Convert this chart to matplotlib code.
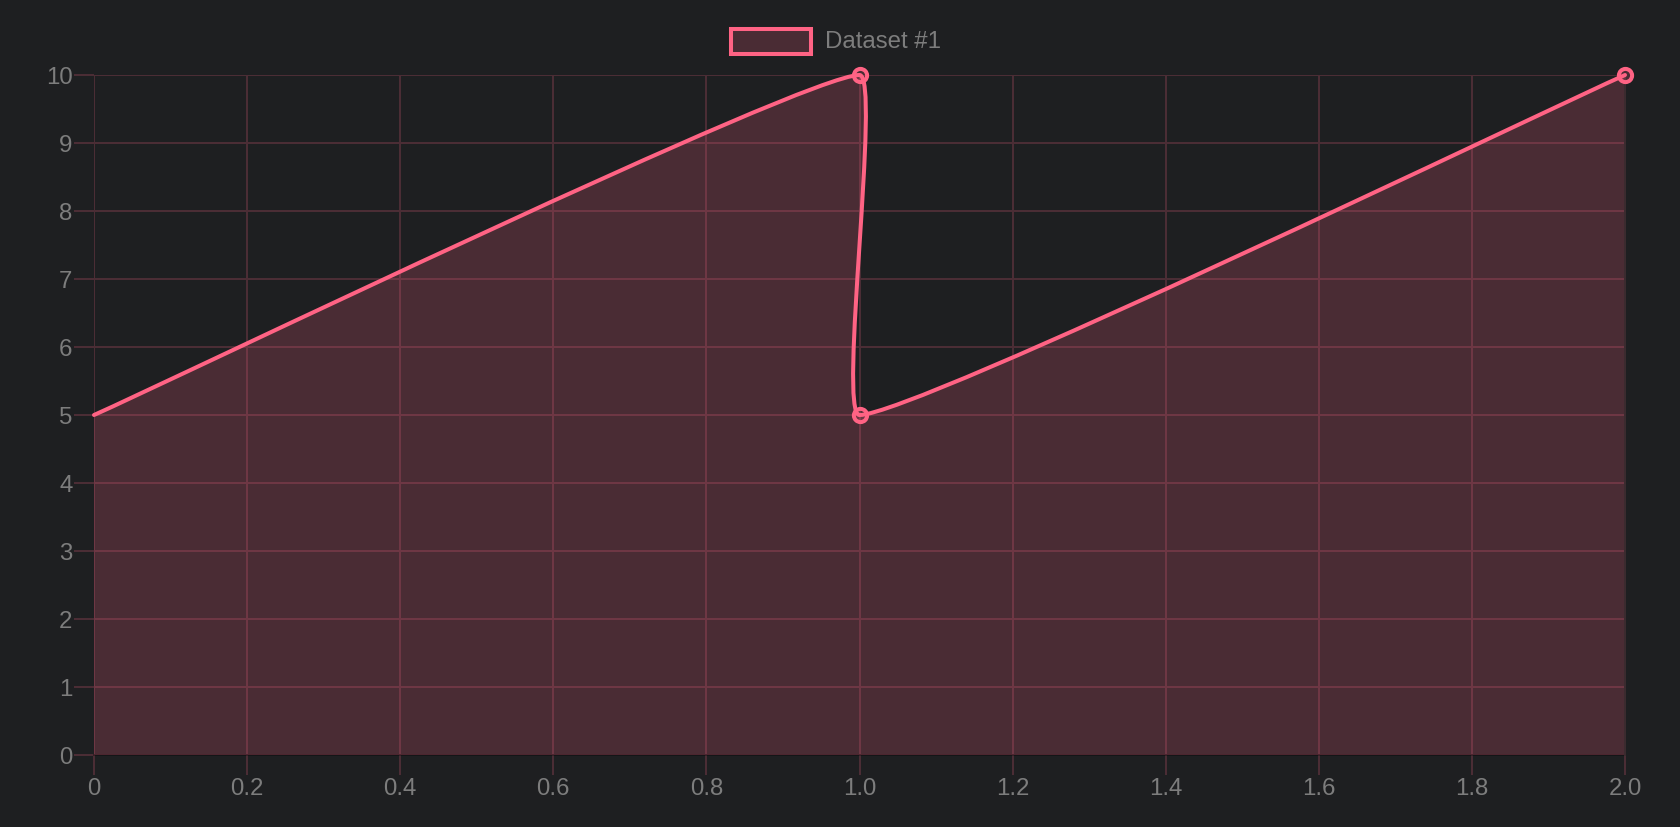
"""Line chart with a smoothed, filled dataset on a dark background."""
import numpy as np
import matplotlib
matplotlib.use("Agg")
import matplotlib.pyplot as plt
from matplotlib.path import Path
from matplotlib.patches import PathPatch, Rectangle

# data
xs = [0, 1, 1, 2]
ys = [5, 10, 5, 10]
marker_idx = [1, 2, 3]
x_ticks = [0, 0.2, 0.4, 0.6, 0.8, 1.0, 1.2, 1.4, 1.6, 1.8, 2.0]
x_labels = ["0", "0.2", "0.4", "0.6", "0.8", "1.0", "1.2", "1.4", "1.6", "1.8", "2.0"]
y_ticks = [0, 1, 2, 3, 4, 5, 6, 7, 8, 9, 10]
y_labels = [str(v) for v in y_ticks]
series_name = "Dataset #1"

# styles
BG = "#1e1f21"
PINK = "#ff6384"
FILL = (1.0, 99 / 255, 132 / 255, 0.2)
GRID = "#4b2d35"
DARK = (0, 0, 0, 0.3)
TEXT = "#7d7d7d"
TENSION = 0.1
W, H = 1680, 828

plt.rcParams['font.family'] = ['Liberation Sans', 'DejaVu Sans']

fig = plt.figure(figsize=(W / 100, H / 100), dpi=100, facecolor=BG)
left, right, top, bottom = 94, 1625, 76, 756
ax = fig.add_axes([left / W, 1 - bottom / H, (right - left) / W, (bottom - top) / H])
ax.set_facecolor(BG)
ax.set_xlim(0, 2)
ax.set_ylim(0, 10)

# grid under the fill
ax.set_axisbelow(True)
ax.grid(True, color=GRID, alpha=1.0, lw=1.44)
for s in ax.spines.values():
    s.set_visible(False)

ax.set_xticks(x_ticks)
ax.set_xticklabels(x_labels)
ax.set_yticks(y_ticks)
ax.set_yticklabels(y_labels)
ax.tick_params(axis='both', length=14.4, width=1.44, color=GRID,
               labelcolor=TEXT, labelsize=17.3)
ax.tick_params(axis='y', pad=1)
ax.tick_params(axis='x', pad=1.5)
ax.xaxis.get_major_ticks()[0].tick1line.set_color("#151516")
ax.yaxis.get_major_ticks()[0].tick1line.set_color("#151516")
ax.xaxis.get_major_ticks()[-1].tick1line.set_color("#3b2b2f")

# spline control points (Chart.js style), computed in pixel space
pts = ax.transData.transform(np.column_stack([xs, ys]))
n = len(pts)
cp_prev, cp_next = [], []
for i in range(n):
    cur = pts[i]
    prv = pts[i - 1] if i > 0 else cur
    nxt = pts[i + 1] if i < n - 1 else cur
    d01 = np.hypot(*(cur - prv))
    d12 = np.hypot(*(nxt - cur))
    tot = d01 + d12
    s01 = d01 / tot if tot else 0
    s12 = d12 / tot if tot else 0
    cp_prev.append(cur - TENSION * s01 * (nxt - prv))
    cp_next.append(cur + TENSION * s12 * (nxt - prv))

verts = [pts[0]]
codes = [Path.MOVETO]
for i in range(n - 1):
    verts += [cp_next[i], cp_prev[i + 1], pts[i + 1]]
    codes += [Path.CURVE4] * 3
inv = ax.transData.inverted()
verts = inv.transform(np.array(verts))

line_path = Path(verts, codes)
fill_verts = np.vstack([verts, [[xs[-1], 0], [xs[0], 0], [xs[0], 0]]])
fill_codes = codes + [Path.LINETO, Path.LINETO, Path.CLOSEPOLY]
ax.add_patch(PathPatch(Path(fill_verts, fill_codes), facecolor=FILL,
                       edgecolor='none', zorder=1))

# border lines on top of the fill
ax.axhline(0, color=DARK, lw=1.44, zorder=2, clip_on=False)
ax.axvline(2, color="#3b2b2f", lw=1.44, zorder=2, clip_on=False)

ax.add_patch(PathPatch(line_path, facecolor='none', edgecolor=PINK, lw=2.9,
                       zorder=3, clip_on=False, capstyle='round', joinstyle='round'))
ax.plot([xs[i] for i in marker_idx], [ys[i] for i in marker_idx], 'o', ms=9.5,
        mfc=FILL, mec=PINK, mew=2.9, zorder=4, clip_on=False)

# legend
fig.patches.append(Rectangle((731 / W, 1 - 55 / H), 80 / W, 25 / H,
                             transform=fig.transFigure, facecolor=FILL,
                             edgecolor=PINK, lw=2.9))
fig.text(825 / W, 1 - 42 / H, series_name, color=TEXT, fontsize=17.3,
         ha='left', va='center')

fig.savefig("out.png", dpi=100, facecolor=BG)
